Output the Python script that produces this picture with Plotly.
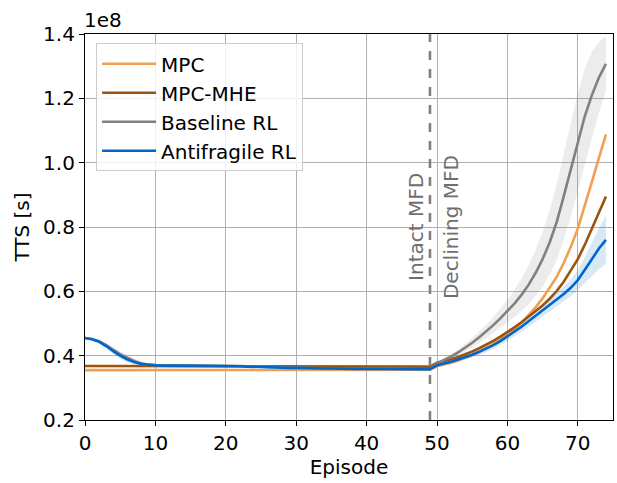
import plotly.graph_objects as go

# Episodes 0..74, total time spent (TTS) in units of 1e8 s
episodes = list(range(75))

mpc = [
    0.355, 0.355, 0.355, 0.355, 0.355, 0.355, 0.355, 0.355, 0.355, 0.355,
    0.355, 0.355, 0.355, 0.355, 0.355, 0.355, 0.355, 0.355, 0.355, 0.355,
    0.355, 0.355, 0.355, 0.355, 0.355, 0.355, 0.355, 0.355, 0.355, 0.355,
    0.355, 0.355, 0.355, 0.355, 0.355, 0.355, 0.355, 0.355, 0.355, 0.355,
    0.355, 0.355, 0.355, 0.355, 0.355, 0.355, 0.355, 0.355, 0.355, 0.356,
    0.367, 0.372, 0.378, 0.385, 0.393, 0.402, 0.412, 0.423, 0.436, 0.450,
    0.466, 0.483, 0.502, 0.525, 0.550, 0.578, 0.610, 0.645, 0.688, 0.738,
    0.795, 0.865, 0.940, 1.015, 1.088,
]

mpc_mhe = [
    0.368, 0.368, 0.368, 0.368, 0.368, 0.368, 0.368, 0.368, 0.368, 0.368,
    0.368, 0.368, 0.368, 0.368, 0.368, 0.368, 0.368, 0.368, 0.368, 0.368,
    0.368, 0.368, 0.368, 0.368, 0.368, 0.368, 0.368, 0.368, 0.368, 0.368,
    0.368, 0.368, 0.368, 0.368, 0.368, 0.368, 0.368, 0.368, 0.368, 0.368,
    0.368, 0.368, 0.368, 0.368, 0.368, 0.368, 0.368, 0.368, 0.368, 0.366,
    0.378, 0.383, 0.389, 0.396, 0.404, 0.413, 0.423, 0.434, 0.446, 0.459,
    0.473, 0.488, 0.504, 0.521, 0.538, 0.556, 0.577, 0.601, 0.630, 0.663,
    0.700, 0.745, 0.795, 0.848, 0.895,
]

baseline_rl = [
    0.455, 0.452, 0.445, 0.433, 0.418, 0.404, 0.393, 0.383, 0.376, 0.372,
    0.371, 0.370, 0.370, 0.370, 0.370, 0.370, 0.370, 0.370, 0.369, 0.369,
    0.369, 0.368, 0.368, 0.367, 0.366, 0.366, 0.365, 0.364, 0.364, 0.363,
    0.363, 0.362, 0.362, 0.362, 0.361, 0.361, 0.360, 0.360, 0.360, 0.360,
    0.360, 0.360, 0.360, 0.360, 0.360, 0.359, 0.359, 0.359, 0.359, 0.358,
    0.376, 0.386, 0.397, 0.410, 0.424, 0.440, 0.457, 0.475, 0.495, 0.516,
    0.538, 0.562, 0.589, 0.620, 0.657, 0.700, 0.752, 0.815, 0.895, 0.980,
    1.065, 1.145, 1.210, 1.265, 1.307,
]

baseline_rl_std = [
    0.003, 0.003, 0.004, 0.006, 0.008, 0.010, 0.010, 0.008, 0.006, 0.004,
    0.003, 0.003, 0.003, 0.003, 0.003, 0.003, 0.003, 0.003, 0.003, 0.003,
    0.003, 0.003, 0.003, 0.003, 0.003, 0.003, 0.003, 0.003, 0.003, 0.003,
    0.003, 0.003, 0.003, 0.003, 0.003, 0.003, 0.003, 0.003, 0.003, 0.003,
    0.003, 0.003, 0.003, 0.003, 0.003, 0.003, 0.003, 0.003, 0.003, 0.003,
    0.005, 0.006, 0.008, 0.010, 0.012, 0.015, 0.018, 0.021, 0.025, 0.030,
    0.035, 0.042, 0.050, 0.060, 0.072, 0.086, 0.100, 0.118, 0.135, 0.148,
    0.152, 0.148, 0.135, 0.110, 0.085,
]

antifragile_rl = [
    0.455, 0.451, 0.443, 0.430, 0.414, 0.400, 0.389, 0.380, 0.374, 0.371,
    0.370, 0.369, 0.369, 0.369, 0.369, 0.369, 0.369, 0.369, 0.368, 0.368,
    0.368, 0.367, 0.367, 0.366, 0.365, 0.365, 0.364, 0.363, 0.363, 0.362,
    0.362, 0.361, 0.361, 0.361, 0.360, 0.360, 0.359, 0.359, 0.359, 0.359,
    0.359, 0.359, 0.359, 0.359, 0.359, 0.358, 0.358, 0.358, 0.358, 0.358,
    0.370, 0.375, 0.381, 0.388, 0.395, 0.403, 0.412, 0.422, 0.433, 0.445,
    0.460, 0.474, 0.490, 0.507, 0.524, 0.541, 0.557, 0.574, 0.592, 0.611,
    0.635, 0.667, 0.700, 0.733, 0.760,
]

antifragile_rl_std = [
    0.002, 0.002, 0.003, 0.005, 0.008, 0.010, 0.010, 0.008, 0.005, 0.003,
    0.002, 0.002, 0.002, 0.002, 0.002, 0.002, 0.002, 0.002, 0.002, 0.002,
    0.002, 0.002, 0.002, 0.002, 0.002, 0.002, 0.002, 0.002, 0.002, 0.002,
    0.002, 0.002, 0.002, 0.002, 0.002, 0.002, 0.002, 0.002, 0.002, 0.002,
    0.002, 0.002, 0.002, 0.002, 0.002, 0.002, 0.002, 0.002, 0.002, 0.002,
    0.004, 0.005, 0.006, 0.007, 0.008, 0.009, 0.010, 0.011, 0.012, 0.013,
    0.014, 0.015, 0.016, 0.017, 0.018, 0.019, 0.020, 0.022, 0.024, 0.026,
    0.030, 0.040, 0.052, 0.064, 0.075,
]

mfd_change_episode = 49
x_ticks = [0, 10, 20, 30, 40, 50, 60, 70]
y_ticks = [0.2, 0.4, 0.6, 0.8, 1.0, 1.2, 1.4]

FONT = "DejaVu Sans, sans-serif"
FS = 20

fig = go.Figure()


def add_band(mean, std, fillcolor):
    upper = [m + s for m, s in zip(mean, std)]
    lower = [m - s for m, s in zip(mean, std)]
    fig.add_trace(go.Scatter(x=episodes, y=upper, mode="lines",
                             line=dict(width=0), hoverinfo="skip",
                             showlegend=False))
    fig.add_trace(go.Scatter(x=episodes, y=lower, mode="lines",
                             line=dict(width=0), fill="tonexty",
                             fillcolor=fillcolor, hoverinfo="skip",
                             showlegend=False))


add_band(baseline_rl, baseline_rl_std, "rgba(128,128,128,0.15)")
add_band(antifragile_rl, antifragile_rl_std, "rgba(0,102,204,0.15)")

series = [
    ("MPC", mpc, "#f0a050"),
    ("MPC-MHE", mpc_mhe, "#9a5410"),
    ("Baseline RL", baseline_rl, "#808080"),
    ("Antifragile RL", antifragile_rl, "#0066cc"),
]
for name, values, color in series:
    fig.add_trace(go.Scatter(x=episodes, y=values, mode="lines", name=name,
                             line=dict(color=color, width=2.6)))

# MFD change marker
fig.add_shape(type="line", xref="x", yref="paper",
              x0=mfd_change_episode, x1=mfd_change_episode, y0=0, y1=1,
              line=dict(color="#808080", width=2.6, dash="dash"))

text_color = "#6e6e6e"
fig.add_annotation(x=mfd_change_episode - 2.0, y=0.8, text="Intact MFD",
                   textangle=-90, showarrow=False,
                   font=dict(family=FONT, size=FS, color=text_color))
fig.add_annotation(x=mfd_change_episode + 3.0, y=0.8, text="Declining MFD",
                   textangle=-90, showarrow=False,
                   font=dict(family=FONT, size=FS, color=text_color))

# axis offset label
fig.add_annotation(xref="paper", yref="paper", x=-0.005, y=1, xanchor="left",
                   yanchor="bottom", text="1e8", showarrow=False,
                   font=dict(family=FONT, size=FS, color="black"))

axis_common = dict(
    showline=True, linecolor="black", linewidth=1.2, mirror=True,
    ticks="outside", ticklen=5, tickwidth=1.2, tickcolor="black",
    showgrid=True, gridcolor="#b0b0b0", gridwidth=1, zeroline=False,
    tickfont=dict(family=FONT, size=FS, color="black"),
)

fig.update_xaxes(range=[0, 75], tickvals=x_ticks,
                 title=dict(text="Episode", standoff=5,
                            font=dict(family=FONT, size=FS, color="black")),
                 **axis_common)
fig.update_yaxes(range=[0.2, 1.4], tickvals=y_ticks, tickformat=".1f",
                 title=dict(text="TTS [s]", standoff=8,
                            font=dict(family=FONT, size=FS, color="black")),
                 **axis_common)

fig.update_layout(
    width=617, height=483,
    margin=dict(l=85, r=4, t=34, b=63),
    plot_bgcolor="white", paper_bgcolor="white",
    font=dict(family=FONT, size=FS, color="black"),
    legend=dict(x=0.021, y=0.976, xanchor="left", yanchor="top",
                traceorder="normal",
                bgcolor="rgba(255,255,255,0.8)", bordercolor="#cccccc",
                borderwidth=1, font=dict(family=FONT, size=FS),
                tracegroupgap=0, itemwidth=54),
)

fig.write_html("out.html")
